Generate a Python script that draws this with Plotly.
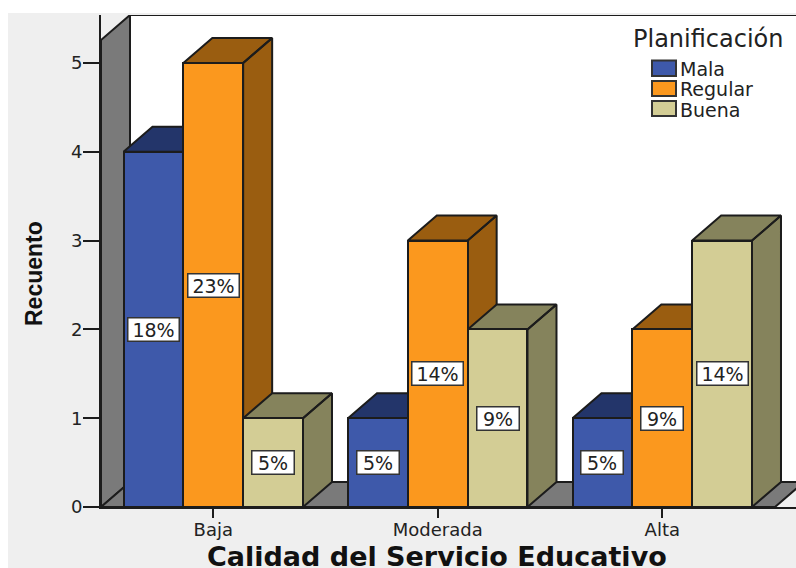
import plotly.graph_objects as go

categories = ["Baja", "Moderada", "Alta"]
series_names = ["Mala", "Regular", "Buena"]
mala = [4, 1, 1]
regular = [5, 3, 2]
buena = [1, 2, 3]
mala_pct = ["18%", "5%", "5%"]
regular_pct = ["23%", "14%", "9%"]
buena_pct = ["5%", "9%", "14%"]
y_ticks = [0, 1, 2, 3, 4, 5]

values = [mala, regular, buena]
percents = [mala_pct, regular_pct, buena_pct]
front_colors = ["#3e59aa", "#fb981e", "#d3cd95"]
shade_colors = ["#23356a", "#9a5d10", "#85835c"]
wall_color = "#7a7a7a"
ink = "#1c1c1c"

W, H = 796, 568
L, R, T, B = 101, 796, 15, 507
X0_PX, X_UNIT = 213.3, 224.5
Y_UNIT = 88.8
xr = [(L - X0_PX) / X_UNIT, (R - X0_PX) / X_UNIT]
yr = [0, (B - T) / Y_UNIT]
DX, DY = 29 / X_UNIT, 25 / Y_UNIT
BAR_W = 0.2665
OFFS = [-0.4, -0.4 + BAR_W, -0.4 + 2 * BAR_W]
FRONT_TOP = yr[1] - DY
FLOOR_R = (775 - X0_PX) / X_UNIT


def px(x):
    return (x - L) / (R - L)


def py(y):
    return (B - y) / (B - T)


def poly(pts):
    xs = [p[0] for p in pts] + [pts[0][0], None]
    ys = [p[1] for p in pts] + [pts[0][1], None]
    return xs, ys


fig = go.Figure()


def add_poly(xs, ys, color, yaxis="y", lc=ink, lw=2):
    fig.add_trace(go.Scatter(x=xs, y=ys, mode="lines", fill="toself", fillcolor=color,
                             line=dict(color=lc, width=lw), hoverinfo="skip",
                             showlegend=False, yaxis=yaxis))


# walls
xl = xr[0]
lx, ly = poly([(xl, 0), (xl + DX, DY), (xl + DX, yr[1]), (xl, FRONT_TOP)])
add_poly(lx, ly, wall_color)
fx, fy = poly([(xl, 0), (FLOOR_R, 0), (FLOOR_R + DX, DY), (xl + DX, DY)])
add_poly(fx, fy, wall_color)

axes = ["y", "y2", "y3"]
for s, name in enumerate(series_names):
    xs, ys = [], []
    for g, v in enumerate(values[s]):
        a = g + OFFS[s]
        b = a + BAR_W
        tx, ty = poly([(a, v), (a + DX, v + DY), (b + DX, v + DY), (b, v)])
        sx, sy = poly([(b, 0), (b + DX, DY), (b + DX, v + DY), (b, v)])
        xs += tx + sx
        ys += ty + sy
    add_poly(xs, ys, shade_colors[s], yaxis=axes[s])
    fig.add_trace(go.Bar(x=list(range(3)), y=values[s], name=name, width=BAR_W, offset=OFFS[s],
                         marker=dict(color=front_colors[s], line=dict(color=ink, width=2)),
                         yaxis=["y2", "y3", "y4"][s], hoverinfo="skip", showlegend=False))

for s in range(3):
    for g, v in enumerate(values[s]):
        label = percents[s][g]
        fig.add_annotation(x=g + OFFS[s] + BAR_W / 2, y=v / 2, text=label, showarrow=False,
                           bgcolor="white", bordercolor="#333333", borderwidth=1.5, borderpad=0,
                           width=50 if len(label) == 3 else 41, height=22,
                           font=dict(family="DejaVu Sans", size=19, color="#222222"))

# grey sheet behind the chart
fig.add_shape(type="rect", xref="paper", yref="paper", layer="below",
              x0=px(8), x1=1.0, y0=py(H), y1=py(13),
              fillcolor="#efefef", line_width=0)
# white back wall
fig.add_shape(type="rect", xref="x", yref="y", layer="below",
              x0=xl + DX, x1=xr[1], y0=DY, y1=yr[1], fillcolor="white", line_width=0)
# top edge
fig.add_shape(type="line", xref="x", yref="y", layer="between",
              x0=xl + DX, x1=xr[1], y0=yr[1], y1=yr[1], line=dict(color=ink, width=2))

# key
fig.add_annotation(xref="paper", yref="paper", x=px(708), y=py(39), text="Planificación", showarrow=False,
                   xanchor="center", yanchor="middle",
                   font=dict(family="DejaVu Sans", size=24, color="#222222"))
key_rows = [(60.5, 76, 69), (81, 96, 89), (101, 116, 110)]
for s, (y0, y1, yc) in enumerate(key_rows):
    fig.add_shape(type="rect", xref="paper", yref="paper", x0=px(652), x1=px(676), y0=py(y1), y1=py(y0),
                  fillcolor=front_colors[s], line=dict(color="#333333", width=2), layer="above")
    fig.add_annotation(xref="paper", yref="paper", x=px(678), y=py(yc), text=series_names[s], showarrow=False,
                       xanchor="left", yanchor="middle",
                       font=dict(family="DejaVu Sans", size=19, color="#222222"))

# axis titles
fig.add_annotation(xref="paper", yref="paper", x=px(34), y=py(274), text="<b>Recuento</b>", showarrow=False,
                   xanchor="center", yanchor="middle", textangle=-90,
                   font=dict(family="Liberation Sans", size=23, color="#111111"))
fig.add_annotation(xref="paper", yref="paper", x=px(437), y=py(556), text="<b>Calidad del Servicio Educativo</b>",
                   showarrow=False, xanchor="center", yanchor="middle",
                   font=dict(family="DejaVu Sans", size=27, color="#111111"))

common = dict(range=yr, overlaying="y", visible=False, fixedrange=True)
fig.update_layout(
    width=W, height=H, autosize=False,
    margin=dict(l=L, r=W - R, t=T, b=H - B, pad=0),
    paper_bgcolor="white", plot_bgcolor="rgba(0,0,0,0)",
    barmode="overlay", bargap=0,
    font=dict(family="DejaVu Sans", color="#222222"),
    xaxis=dict(range=xr, tickvals=[0, 1, 2], ticktext=categories, ticks="outside", ticklen=9,
               tickwidth=2, tickcolor=ink, showgrid=False, zeroline=False, showline=True,
               linecolor=ink, linewidth=2, tickfont=dict(size=18), ticklabelstandoff=-4),
    yaxis=dict(range=yr, tickvals=y_ticks, ticks="outside", ticklen=16, tickwidth=2, tickcolor=ink,
               showgrid=False, zeroline=False, showline=True, linecolor=ink, linewidth=2,
               tickfont=dict(size=18), ticklabelstandoff=-3),
    yaxis2=common, yaxis3=common, yaxis4=common,
    showlegend=False,
)
fig.write_html("out.html", config={"displayModeBar": False},
               post_script="document.body.style.margin='0';document.documentElement.style.overflow='hidden';")
